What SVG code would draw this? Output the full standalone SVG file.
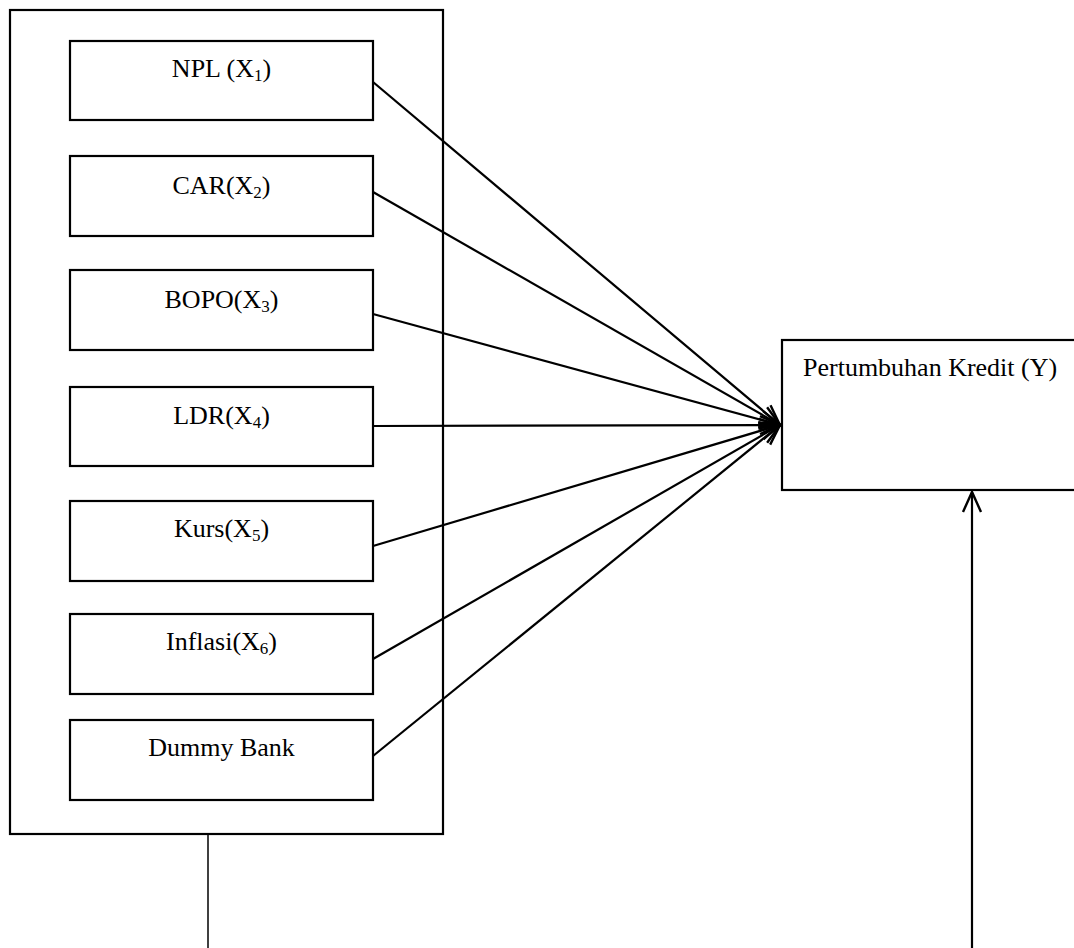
<svg xmlns="http://www.w3.org/2000/svg" width="1074" height="948" viewBox="0 0 1074 948">
<style>
.box{fill:#fff;stroke:#000;stroke-width:2.2}
.lbl{font-family:"Liberation Serif","Times New Roman",serif;font-size:26px;fill:#000}
.sub{font-size:17px}
.con{stroke:#000;stroke-width:2.2;fill:none}
</style>
<defs>
<marker id="arr" markerUnits="userSpaceOnUse" viewBox="-24 -12 28 24" refX="0" refY="0" markerWidth="28" markerHeight="24" orient="auto" overflow="visible">
<path d="M-20,-9 L0,0 L-20,9" fill="none" stroke="#000" stroke-width="2.4"/>
</marker>
</defs>
<rect width="1074" height="948" fill="#fff"/>
<g id="group-x">
<rect class="box" x="10" y="10" width="433" height="824"/>
</g>
<g id="npl"><rect class="box" x="70" y="41" width="303" height="79"/><text class="lbl" x="221.5" y="77" text-anchor="middle">NPL (X<tspan class="sub" dy="4">1</tspan><tspan dy="-4">)</tspan></text></g>
<g id="car"><rect class="box" x="70" y="156" width="303" height="80"/><text class="lbl" x="221.5" y="194" text-anchor="middle">CAR(X<tspan class="sub" dy="4">2</tspan><tspan dy="-4">)</tspan></text></g>
<g id="bopo"><rect class="box" x="70" y="270" width="303" height="80"/><text class="lbl" x="221.5" y="308" text-anchor="middle">BOPO(X<tspan class="sub" dy="4">3</tspan><tspan dy="-4">)</tspan></text></g>
<g id="ldr"><rect class="box" x="70" y="387" width="303" height="79"/><text class="lbl" x="221.5" y="424" text-anchor="middle">LDR(X<tspan class="sub" dy="4">4</tspan><tspan dy="-4">)</tspan></text></g>
<g id="kurs"><rect class="box" x="70" y="501" width="303" height="80"/><text class="lbl" x="221.5" y="537" text-anchor="middle">Kurs(X<tspan class="sub" dy="4">5</tspan><tspan dy="-4">)</tspan></text></g>
<g id="inflasi"><rect class="box" x="70" y="614" width="303" height="80"/><text class="lbl" x="221.5" y="650" text-anchor="middle">Inflasi(X<tspan class="sub" dy="4">6</tspan><tspan dy="-4">)</tspan></text></g>
<g id="dummy"><rect class="box" x="70" y="720" width="303" height="80"/><text class="lbl" x="221.5" y="756" text-anchor="middle">Dummy Bank</text></g>
<g id="kredit"><rect class="box" x="782" y="340" width="302" height="150"/><text class="lbl" x="803" y="376">Pertumbuhan Kredit (Y)</text></g>
<g id="connectors">
<line class="con" x1="373" y1="82" x2="780" y2="425" marker-end="url(#arr)"/>
<line class="con" x1="373" y1="192" x2="780" y2="425" marker-end="url(#arr)"/>
<line class="con" x1="373" y1="314" x2="780" y2="425" marker-end="url(#arr)"/>
<line class="con" x1="373" y1="426" x2="780" y2="425" marker-end="url(#arr)"/>
<line class="con" x1="373" y1="546" x2="780" y2="425" marker-end="url(#arr)"/>
<line class="con" x1="373" y1="659" x2="780" y2="425" marker-end="url(#arr)"/>
<line class="con" x1="373" y1="756" x2="780" y2="425" marker-end="url(#arr)"/>
<line x1="208" y1="834" x2="208" y2="948" stroke="#000" stroke-width="1.5"/>
<line class="con" x1="972" y1="948" x2="972" y2="492" marker-end="url(#arr)"/>
</g>
</svg>
